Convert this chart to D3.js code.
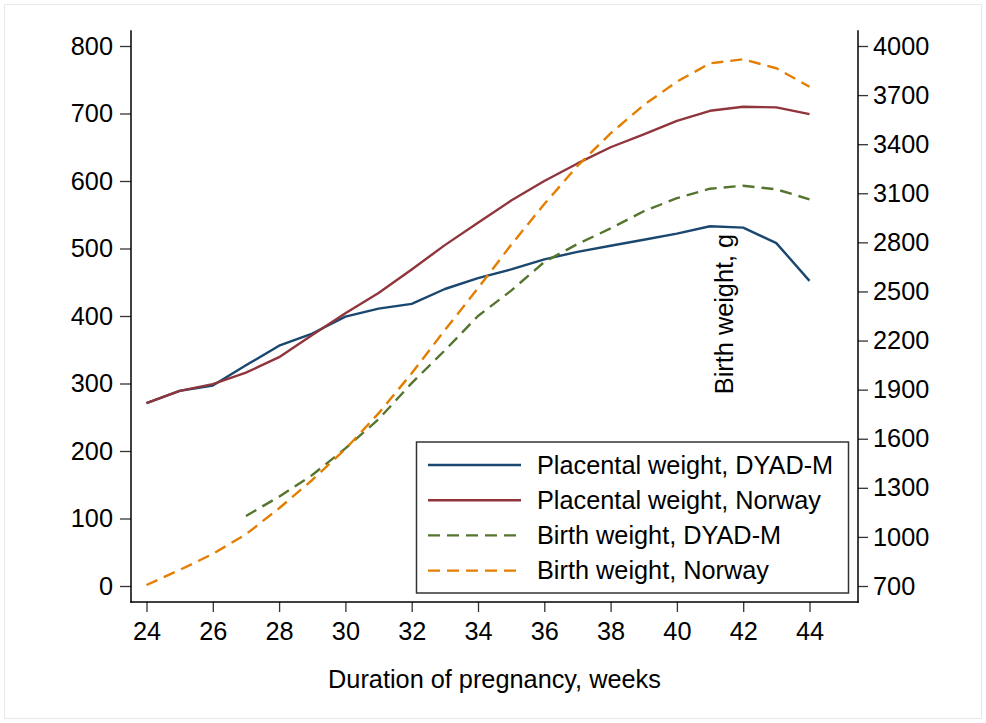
<!DOCTYPE html>
<html lang="en">
<head>
<meta charset="UTF-8">
<title>Placental and birth weight by duration of pregnancy</title>
<style>
  body { margin: 0; background: #fff; }
  svg text { font-family: "Liberation Sans", Arial, sans-serif; fill: #000; }
</style>
</head>
<body>
<svg id="chart" width="986" height="723"></svg>
<script src="https://d3js.org/d3.v7.min.js"></script>
<script>
// weeks of pregnancy
const weeks = [24, 25, 26, 27, 28, 29, 30, 31, 32, 33, 34, 35, 36, 37, 38, 39, 40, 41, 42, 43, 44];

// placental weight (left axis, g)
const placentaDyad   = [271, 289, 297, 327, 356, 374, 399, 411, 418, 440, 456, 469, 484, 495, 504, 513, 522, 533, 531, 508, 452];
const placentaNorway = [271, 289, 299, 316, 339, 372, 404, 434, 469, 505, 538, 571, 600, 626, 650, 669, 689, 704, 710, 709, 699];

// birth weight (right axis, g)
const birthDyad   = [null, null, null, 1128, 1246, 1378, 1541, 1719, 1940, 2140, 2350, 2505, 2680, 2790, 2885, 2990, 3070, 3128, 3146, 3124, 3063];
const birthNorway = [706, 798, 896, 1016, 1175, 1348, 1537, 1755, 2000, 2264, 2520, 2785, 3034, 3267, 3466, 3639, 3782, 3894, 3919, 3864, 3751];

const xTicks = [24, 26, 28, 30, 32, 34, 36, 38, 40, 42, 44];
const leftTicks = [0, 100, 200, 300, 400, 500, 600, 700, 800];
const rightTicks = [700, 1000, 1300, 1600, 1900, 2200, 2500, 2800, 3100, 3400, 3700, 4000];

const series = [
  { name: "Placental weight, DYAD-M", values: placentaDyad, axis: "left", color: "#1a476f", dash: null },
  { name: "Placental weight, Norway", values: placentaNorway, axis: "left", color: "#90353b", dash: null },
  { name: "Birth weight, DYAD-M", values: birthDyad, axis: "right", color: "#55752f", dash: "12,7" },
  { name: "Birth weight, Norway", values: birthNorway, axis: "right", color: "#e37e00", dash: "12,7" }
];

const svg = d3.select("#chart");
const fontSize = 25.3;

// plot frame
const frame = { left: 131, right: 858, top: 31, bottom: 602 };

const x = d3.scaleLinear().domain([24, 44]).range([146.5, 809.5]);
const yLeft = d3.scaleLinear().domain([0, 800]).range([586, 46]);
const yRight = d3.scaleLinear().domain([700, 4000]).range([586, 46]);

// light outer border of the graph region
svg.append("rect")
  .attr("x", 4.5).attr("y", 4.5)
  .attr("width", 977).attr("height", 714)
  .attr("fill", "none")
  .attr("stroke", "#e8e8e8");

// axes
const leftAxis = svg.append("g")
  .attr("transform", `translate(${frame.left},0)`)
  .call(d3.axisLeft(yLeft).tickValues(leftTicks).tickSize(11).tickPadding(7).tickSizeOuter(0));

const rightAxis = svg.append("g")
  .attr("transform", `translate(${frame.right},0)`)
  .call(d3.axisRight(yRight).tickValues(rightTicks).tickFormat(d3.format("d"))
    .tickSize(10).tickPadding(5).tickSizeOuter(0));

const bottomAxis = svg.append("g")
  .attr("transform", `translate(0,${frame.bottom})`)
  .call(d3.axisBottom(x).tickValues(xTicks).tickSize(10).tickPadding(10).tickSizeOuter(0));

[leftAxis, rightAxis, bottomAxis].forEach(g => {
  g.select(".domain").remove();
  g.selectAll(".tick line").attr("stroke", "#333").attr("stroke-width", 1.3);
  g.selectAll(".tick text")
    .attr("font-size", fontSize)
    .attr("font-family", "Liberation Sans, Arial, sans-serif")
    .attr("fill", "#000");
});

// axis lines
const axisLines = [
  [frame.left, frame.top, frame.left, frame.bottom],
  [frame.right, frame.top, frame.right, frame.bottom],
  [frame.left, frame.bottom, frame.right, frame.bottom]
];
svg.selectAll("line.axisline")
  .data(axisLines)
  .join("line")
  .attr("class", "axisline")
  .attr("x1", d => d[0]).attr("y1", d => d[1])
  .attr("x2", d => d[2]).attr("y2", d => d[3])
  .attr("stroke", "#000")
  .attr("stroke-width", 1.5)
  .attr("stroke-linecap", "square");

// axis titles
svg.append("text")
  .attr("x", (frame.left + frame.right) / 2)
  .attr("y", 688)
  .attr("text-anchor", "middle")
  .attr("font-size", fontSize)
  .text("Duration of pregnancy, weeks");

svg.append("text")
  .attr("transform", "translate(733,314) rotate(-90)")
  .attr("text-anchor", "middle")
  .attr("font-size", fontSize)
  .text("Birth weight, g");

// lines
series.forEach(s => {
  const yScale = s.axis === "left" ? yLeft : yRight;
  const line = d3.line()
    .defined(d => d[1] != null)
    .x(d => x(d[0]))
    .y(d => yScale(d[1]));
  svg.append("path")
    .datum(weeks.map((w, i) => [w, s.values[i]]))
    .attr("d", line)
    .attr("fill", "none")
    .attr("stroke", s.color)
    .attr("stroke-width", 2.4)
    .attr("stroke-linejoin", "round")
    .attr("stroke-dasharray", s.dash);
});

// legend
const legend = svg.append("g");
legend.append("rect")
  .attr("x", 416.5).attr("y", 442)
  .attr("width", 432).attr("height", 151)
  .attr("fill", "#fff")
  .attr("stroke", "#333")
  .attr("stroke-width", 1.5);

const rows = legend.selectAll("g.row")
  .data(series)
  .join("g")
  .attr("class", "row")
  .attr("transform", (d, i) => `translate(0,${465 + i * 35.2})`);

rows.append("line")
  .attr("x1", 428).attr("x2", 521)
  .attr("stroke", d => d.color)
  .attr("stroke-width", 2.4)
  .attr("stroke-dasharray", d => d.dash);

rows.append("text")
  .attr("x", 537)
  .attr("dy", "0.35em")
  .attr("font-size", fontSize)
  .text(d => d.name);
</script>
</body>
</html>
